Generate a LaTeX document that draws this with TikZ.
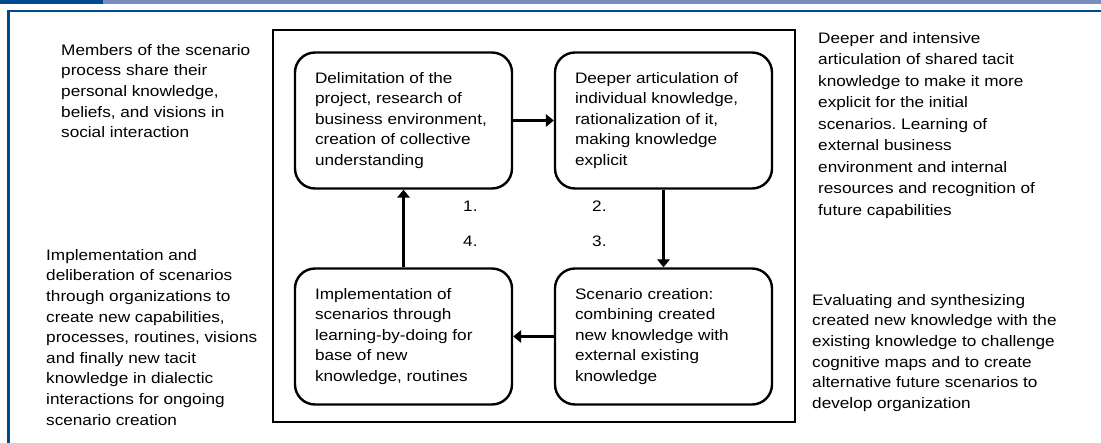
\documentclass[tikz,border=0pt]{standalone}
\usepackage{fontspec}
\setmainfont{Liberation Sans}[FakeStretch=1.13]
\frenchspacing
\usetikzlibrary{arrows.meta}
\definecolor{bandblue}{RGB}{0,74,144}
\definecolor{bandlight}{RGB}{122,139,192}
\begin{document}
\begin{tikzpicture}[x=1pt,y=-1pt,
  stage/.style={draw, line width=2.4pt, rounded corners=20pt,
    minimum width=217pt, minimum height=136pt, inner sep=0pt},
  stagetext/.style={font=\fontsize{15.2}{20.5}\selectfont, align=left,
    inner sep=0pt, anchor=west},
  note/.style={font=\fontsize{15.2}{20.6}\selectfont, align=left,
    inner sep=0pt, anchor=north west},
  widenote/.style={note, font=\fontsize{15.2}{21.5}\selectfont},
  flow/.style={line width=2.1pt, -{Triangle[length=8pt,width=12.5pt]}},
  stepno/.style={font=\fontsize{15.2}{18}\selectfont, inner sep=0pt,
    anchor=base west}]
\useasboundingbox (0,0) rectangle (1101,443);

% page header band and frame rule
\fill[bandblue] (0,0) rectangle (103,4.3);
\fill[bandlight] (103,0) rectangle (1101,4.3);
\draw[bandblue, line width=2.7pt] (8.8,443) -- (8.8,11) -- (1101,11);

% outer frame around the cycle
\draw[line width=1.4pt] (273,30) rectangle (795,422);

% the four stages
\node[stage] (b1) at (403.5,120.5) {};
\node[stage] (b2) at (663.5,120.5) {};
\node[stage] (b3) at (663.5,336.5) {};
\node[stage] (b4) at (403.5,336.5) {};

\node[stagetext] (t1) at ([xshift=21pt]b1.west)
  {Delimitation of the\\project, research of\\business environment,\\creation of collective\\understanding};
\node[stagetext] (t2) at ([xshift=21pt]b2.west)
  {Deeper articulation of\\individual knowledge,\\rationalization of it,\\making knowledge\\explicit};
\node[stagetext] (t3) at ([xshift=21pt]b3.west)
  {Scenario creation:\\combining created\\new knowledge with\\external existing\\knowledge};
\node[stagetext] (t4) at ([xshift=21pt]b4.west)
  {Implementation of\\scenarios through\\learning-by-doing for\\base of new\\knowledge, routines};

% cycle arrows
\draw[flow] (b1.east) -- (b2.west);
\draw[flow] (b2.south) -- (b3.north);
\draw[flow] (b3.west) -- (b4.east);
\draw[flow] (b4.north) -- (b1.south);

% step numbers
\node[stepno] (s1) at (463,212) {1.};
\node[stepno] (s2) at (592,212) {2.};
\node[stepno] (s3) at (592,247) {3.};
\node[stepno] (s4) at (463,247) {4.};

% descriptions beside the frame
\node[note] (n1) at (61,44)
  {Members of the scenario\\process share their\\personal knowledge,\\beliefs, and visions in\\social interaction};
\node[note] (n3) at (46,249)
  {Implementation and\\deliberation of scenarios\\through organizations to\\create new capabilities,\\processes, routines, visions\\and finally new tacit\\knowledge in dialectic\\interactions for ongoing\\scenario creation};
\node[widenote] (n2) at (818,32)
  {Deeper and intensive\\articulation of shared tacit\\knowledge to make it more\\explicit for the initial\\scenarios. Learning of\\external business\\environment and internal\\resources and recognition of\\future capabilities};
\node[note] (n4) at (812,294)
  {Evaluating and synthesizing\\created new knowledge with the\\existing knowledge to challenge\\cognitive maps and to create\\alternative future scenarios to\\develop organization};
\end{tikzpicture}
\end{document}
